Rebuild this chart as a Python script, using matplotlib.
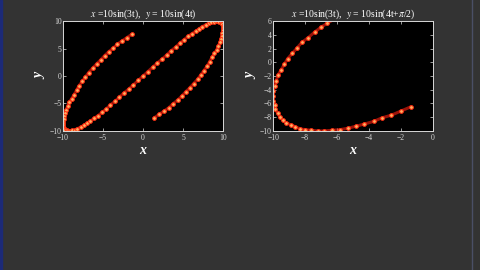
import matplotlib
matplotlib.use('Agg')
import matplotlib.pyplot as plt

plt.rcParams['font.family'] = ['Liberation Serif', 'DejaVu Serif']
plt.rcParams['mathtext.fontset'] = 'stix'

# x = 10sin(3t), y = 10sin(4t)
left_x = [-1.4, -2.0, -2.6, -3.2, -3.7, -4.3, -4.8, -5.3, -5.8, -6.3,
          -6.8, -7.2, -7.6, -8.0, -8.3, -8.6, -8.9, -9.2, -9.4, -9.6,
          -9.7, -9.9, -9.9, -10.0, -10.0, -10.0, -9.9, -9.8, -9.7, -9.5,
          -9.3, -9.1, -8.8, -8.5, -8.2, -7.8, -7.4, -7.0, -6.6, -6.1,
          -5.6, -5.1, -4.6, -4.1, -3.5, -3.0, -2.4, -1.8, -1.2, -0.6,
          0.0,
          0.6, 1.2, 1.8, 2.4, 3.0, 3.5, 4.1, 4.6, 5.1, 5.6,
          6.1, 6.6, 7.0, 7.4, 7.8, 8.2, 8.5, 8.8, 9.1, 9.3,
          9.5, 9.7, 9.8, 9.9, 10.0, 10.0, 10.0, 9.9, 9.9, 9.7,
          9.6, 9.4, 9.2, 8.9, 8.6, 8.3, 8.0, 7.6, 7.2, 6.8,
          6.3, 5.8, 5.3, 4.8, 4.3, 3.7, 3.2, 2.6, 2.0, 1.4]
left_y = [7.6, 7.0, 6.4, 5.8, 5.1, 4.4, 3.7, 2.9, 2.2, 1.4,
          0.6, -0.2, -1.0, -1.8, -2.6, -3.4, -4.1, -4.8, -5.5, -6.1,
          -6.8, -7.3, -7.8, -8.3, -8.7, -9.1, -9.4, -9.6, -9.8, -9.9,
          -10.0, -10.0, -9.9, -9.8, -9.6, -9.3, -9.0, -8.6, -8.2, -7.7,
          -7.2, -6.6, -6.0, -5.3, -4.6, -3.9, -3.1, -2.4, -1.6, -0.8,
          0.0,
          0.8, 1.6, 2.4, 3.1, 3.9, 4.6, 5.3, 6.0, 6.6, 7.2,
          7.7, 8.2, 8.6, 9.0, 9.3, 9.6, 9.8, 9.9, 10.0, 10.0,
          9.9, 9.8, 9.6, 9.4, 9.1, 8.7, 8.3, 7.8, 7.3, 6.8,
          6.1, 5.5, 4.8, 4.1, 3.4, 2.6, 1.8, 1.0, 0.2, -0.6,
          -1.4, -2.2, -2.9, -3.7, -4.4, -5.1, -5.8, -6.4, -7.0, -7.6]

# x = 10sin(3t), y = 10sin(4t+pi/2), visible part of the right panel
right_x = [-1.4, -2.0, -2.6, -3.2, -3.7, -4.3, -4.8, -5.3, -5.8, -6.3,
           -6.8, -7.2, -7.6, -8.0, -8.3, -8.6, -8.9, -9.2, -9.4, -9.6,
           -9.7, -9.9, -9.9, -10.0, -10.0, -10.0, -9.9, -9.8, -9.7, -9.5,
           -9.3, -9.1, -8.8, -8.5, -8.2, -7.8, -7.4, -7.0, -6.6, -6.1, -5.6]
right_y = [-6.5, -7.1, -7.7, -8.1, -8.6, -9.0, -9.3, -9.6, -9.8, -9.9,
           -10.0, -10.0, -9.9, -9.8, -9.7, -9.4, -9.1, -8.8, -8.4, -7.9,
           -7.4, -6.8, -6.2, -5.6, -4.9, -4.2, -3.4, -2.7, -1.9, -1.1,
           -0.3, 0.5, 1.3, 2.1, 2.9, 3.6, 4.4, 5.1, 5.7, 6.4, 7.0]

bg = '#333333'
fg = '#d8d8d8'

fig = plt.figure(figsize=(4.8, 2.7), dpi=100, facecolor=bg)
# blue strip on the left edge and thin line on the right edge
fig.add_artist(plt.Rectangle((0, 0), 0.005, 1, transform=fig.transFigure, color='#1c2a78'))
fig.add_artist(plt.Line2D([0.984, 0.984], [0, 1], transform=fig.transFigure, color='#4a4f66', lw=1))

panels = [
    (left_x, left_y, [0.131, 0.515, 0.334, 0.407], (-10, 10), (-10, 10),
     [-10, -5, 0, 5, 10], [-10, -5, 0, 5, 10], r'$x$ =10sin(3t),  $y$ = 10sin(4t)'),
    (right_x, right_y, [0.569, 0.515, 0.333, 0.407], (-10, 0), (-10, 6),
     [-10, -8, -6, -4, -2, 0], [-10, -8, -6, -4, -2, 0, 2, 4, 6], r'$x$ =10sin(3t),  $y$ = 10sin(4t+$\pi$/2)'),
]

for xs, ys, rect, xl, yl, xt, yt, title in panels:
    ax = fig.add_axes(rect, facecolor='black')
    ax.plot(xs, ys, color='#ff2010', lw=2.2, alpha=0.6, solid_capstyle='round')
    ax.plot(xs, ys, 'o', ms=2.7, mfc='#ffb060', mec='#ff2a10', mew=0.7)
    ax.set_xlim(xl)
    ax.set_ylim(yl)
    ax.set_xticks(xt)
    ax.set_yticks(yt)
    ax.tick_params(direction='in', length=2, width=0.5, colors=fg, labelsize=5.5, pad=1,
                   top=True, right=True)
    ax.tick_params(axis='x', pad=2.5)
    for s in ax.spines.values():
        s.set_color(fg)
        s.set_linewidth(0.7)
    ax.set_title(title, color='white', fontsize=7, pad=3)
    ax.set_xlabel('x', color='white', fontsize=10, fontweight='bold', style='italic', labelpad=1)
    ax.set_ylabel('y', color='white', fontsize=10, fontweight='bold', style='italic', labelpad=2)

fig.savefig('out.png', dpi=100, facecolor=bg)
